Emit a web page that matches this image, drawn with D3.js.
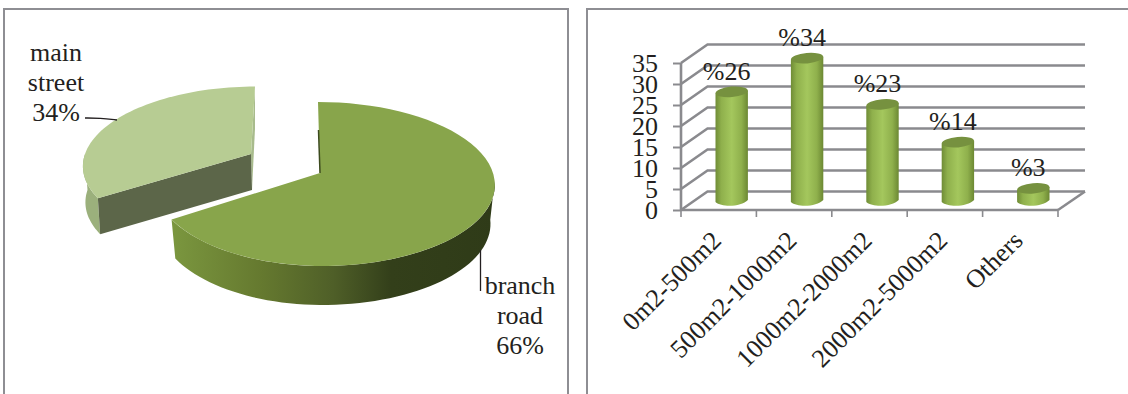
<!DOCTYPE html>
<html>
<head>
<meta charset="utf-8">
<style>
html,body{margin:0;padding:0;background:#fff;}
svg{display:block;}
text{font-family:"Liberation Serif","Times New Roman",serif;fill:#231f20;}
</style>
<script src="https://cdn.jsdelivr.net/npm/d3@7/dist/d3.min.js"></script>
</head>
<body>
<svg id="chart" width="1128" height="394"></svg>
<script>
// Road type shares
const roadTypes = ["branch road", "main street"];
const roadShares = [66, 34];
const roadLabelLines = [["branch", "road", "66%"], ["main", "street", "34%"]];

// Plot area shares
const areaClasses = ["0m2-500m2", "500m2-1000m2", "1000m2-2000m2", "2000m2-5000m2", "Others"];
const areaShares = [26, 34, 23, 14, 3];
const areaLabels = ["%26", "%34", "%23", "%14", "%3"];
const axisTicks = [0, 5, 10, 15, 20, 25, 30, 35];

const svg = d3.select("#chart");
const defs = svg.append("defs");
const borderColor = "#8e8e93";
const gridColor = "#8a8a8e";

// Panel frames, open at the bottom
const framePath = d3.line();
svg.append("path").attr("d", framePath([[4, 394], [4, 9], [568, 9], [568, 394]]))
  .attr("fill", "none").attr("stroke", borderColor).attr("stroke-width", 2);
svg.append("path").attr("d", framePath([[587, 394], [587, 9], [1128, 9]]))
  .attr("fill", "none").attr("stroke", borderColor).attr("stroke-width", 2);

/* ---------- Tilted pie ---------- */
const tilt = { rx: 173, ry: 80.5, persp: 0.134 };

// Projects a pie angle (clockwise from the far side) onto the tilted disc.
// lean skews the far side sideways, left scales the near-left half,
// floor pulls the lower rim of the wall towards the slice apex.
function rimPoint(angle, o) {
  const u = Math.sin(angle), v = Math.cos(angle);
  const s = 1 / (1 + tilt.persp * v);
  const side = u < 0 ? (o.left || 1) : 1;
  const px = o.k * tilt.rx * u * s * side * (o.floor || 1) + (o.lean || 0) * v;
  return [o.x + px, o.y - o.k * tilt.ry * v * s + (o.drop || 0)];
}
function rimArc(a0, a1, o) {
  return d3.range(0, 61).map(i => rimPoint(a0 + (a1 - a0) * i / 60, o));
}
const slices = d3.pie().sort(null).startAngle(0).endAngle(2 * Math.PI)(roadShares);
const branch = slices[0], mainStreet = slices[1];
const line = d3.line();
const closed = pts => line(pts) + "Z";

// Large slice
const bo = { x: 320, y: 173, k: 1, left: 0.95, lean: -2 };
const bDepth = 39;
const wallGrad = defs.append("linearGradient").attr("id", "wallShade")
  .attr("gradientUnits", "userSpaceOnUse").attr("x1", 171).attr("x2", 495).attr("y1", 0).attr("y2", 0);
[[0, "#7b973f"], [0.28, "#65792f"], [0.5, "#4f5f28"], [0.68, "#333f1a"], [1, "#2f3b18"]]
  .forEach(([o, c]) => wallGrad.append("stop").attr("offset", o).attr("stop-color", c));

const wallStart = Math.PI * 0.53;
const bTop = rimArc(wallStart, branch.endAngle, bo);
const bBottom = rimArc(wallStart, branch.endAngle, { ...bo, drop: bDepth, floor: 0.975 }).reverse();
svg.append("path").attr("d", closed(bTop.concat(bBottom))).attr("fill", "url(#wallShade)");

const bSurface = rimArc(branch.startAngle, branch.endAngle, bo).concat([[bo.x, bo.y]]);
svg.append("path").attr("d", closed(bSurface)).attr("fill", "#88a54b");
svg.append("path").attr("d", line([[318.5, 130], [320, bo.y]]))
  .attr("stroke", "#3c4a1e").attr("stroke-width", 1.5).attr("fill", "none");

// Pulled-out slice
const mo = { x: 251, y: 154, k: 0.95, lean: 4, left: 1.01 };
const mDepth = 36;
const mRim = rimArc(mainStreet.startAngle, mainStreet.endAngle, mo);
const mCorner = mRim[0], mFar = mRim[mRim.length - 1];
const apex = [mo.x, mo.y];

// Side strip next to the far edge
svg.append("path")
  .attr("d", closed([mFar, apex, [apex[0] + 1, apex[1] + mDepth], [mFar[0], mFar[1] + 42]]))
  .attr("fill", "#a8bb8c");
// Outer wall on the left
const mLow = { ...mo, drop: mDepth, floor: 0.985 };
const mLeftEnd = rimArc(mainStreet.startAngle, Math.PI * 1.5, mo);
const mLeftLow = rimArc(mainStreet.startAngle, Math.PI * 1.5, mLow).reverse();
svg.append("path").attr("d", closed(mLeftEnd.concat(mLeftLow))).attr("fill", "#9bb07c");
// Cut face
const mCornerLow = rimPoint(mainStreet.startAngle, mLow);
svg.append("path")
  .attr("d", closed([apex, mCorner, mCornerLow, [apex[0] + 1, apex[1] + mDepth]]))
  .attr("fill", "#5c6649");
// Top surface
svg.append("path").attr("d", closed(mRim.concat([apex]))).attr("fill", "#b7cc93");

// Leader lines and labels
svg.append("path").attr("d", d3.line().curve(d3.curveBasis)([[85, 118], [100, 118], [117, 120]]))
  .attr("fill", "none").attr("stroke", "#231f20").attr("stroke-width", 1.3);
svg.append("path").attr("d", line([[480.5, 250], [480.5, 291]]))
  .attr("fill", "none").attr("stroke", "#231f20").attr("stroke-width", 1.3);

const pieFont = 26;
const labelAnchors = [{ x: 520, y: 294 }, { x: 56, y: 61 }];
roadTypes.forEach((name, i) => {
  svg.append("text").attr("text-anchor", "middle").attr("font-size", pieFont)
    .selectAll("tspan").data(roadLabelLines[i]).join("tspan")
    .attr("x", labelAnchors[i].x)
    .attr("y", (d, j) => labelAnchors[i].y + j * 30)
    .text(d => d);
});

/* ---------- 3D cylinder columns ---------- */
const x = d3.scaleBand().domain(areaClasses).range([681, 1058]);
const y = d3.scaleLinear().domain([0, 35]).range([210, 63]);
const wall = { dx: 26.5, dy: -18.5 };
const barShift = { dx: 13, dy: -9 };

const grid = svg.append("g").attr("fill", "none").attr("stroke", gridColor).attr("stroke-width", 2.6);
// Back wall lines and side wall diagonals
axisTicks.forEach(t => {
  grid.append("path").attr("d", line([[x.range()[0], y(t)], [x.range()[0] + wall.dx, y(t) + wall.dy], [1085, y(t) + wall.dy]]));
});
grid.append("path").attr("d", line([[1058, y(0)], [1085, y(0) + wall.dy]]));
grid.append("path").attr("d", line([[681, y(0)], [1058, y(0)]]));
grid.append("path").attr("d", line([[681, y(0)], [681, y(35)]]));

// Axis ticks and tick labels from d3 axes
const yAxis = d3.axisLeft(y).tickValues(axisTicks).tickSize(8).tickPadding(15);
const yG = svg.append("g").attr("transform", "translate(681,0)").call(yAxis);
yG.select(".domain").remove();
yG.selectAll(".tick line").attr("stroke", gridColor).attr("stroke-width", 2);
yG.selectAll(".tick text").attr("font-size", 26).attr("font-family", null).attr("dy", "0.34em");

const xAxis = d3.axisBottom(x).tickSize(0).tickPadding(0);
const xG = svg.append("g").attr("transform", "translate(0,210)").call(xAxis);
xG.select(".domain").remove();
xG.selectAll(".tick line").remove();
xG.selectAll(".tick text")
  .attr("font-size", 26).attr("font-family", null)
  .attr("text-anchor", "end").attr("dy", 0).attr("y", 0)
  .attr("transform", "translate(4,32) rotate(-45)");

// Category separators below the floor
const sep = svg.append("g").attr("stroke", gridColor).attr("stroke-width", 1.6);
x.domain().forEach(c => sep.append("line").attr("x1", x(c)).attr("x2", x(c)).attr("y1", 210).attr("y2", 217));
sep.append("line").attr("x1", 1058).attr("x2", 1058).attr("y1", 210).attr("y2", 217);

// Cylinders
const cylGrad = defs.append("linearGradient").attr("id", "cyl");
[[0, "#6f8c36"], [0.18, "#8fb04c"], [0.5, "#a4c75d"], [0.8, "#8fb04c"], [1, "#6c8833"]]
  .forEach(([o, c]) => cylGrad.append("stop").attr("offset", o).attr("stop-color", c));
const capRx = 16.2, capRy = 5.2;
const bars = svg.append("g").selectAll("g").data(areaClasses).join("g");
bars.each(function (c, i) {
  const g = d3.select(this);
  const cx = x(c) + x.bandwidth() / 2 + barShift.dx;
  const yTop = y(areaShares[i]) + barShift.dy;
  const yBase = y(0) + barShift.dy;
  const p = d3.path();
  p.moveTo(cx - capRx, yTop + 1.4);
  p.lineTo(cx - capRx, yBase + 1);
  p.bezierCurveTo(cx - capRx * 0.6, yBase + capRy + 1.6, cx + capRx * 0.6, yBase + capRy + 0.6, cx + capRx, yBase - 1);
  p.lineTo(cx + capRx, yTop - 1.4);
  p.closePath();
  g.append("path").attr("d", p.toString()).attr("fill", "url(#cyl)");
  g.append("ellipse").attr("cx", 0).attr("cy", 0).attr("rx", capRx).attr("ry", capRy)
    .attr("transform", `translate(${cx},${yTop}) rotate(-5)`).attr("fill", "#76913f");
  svg.append("text").attr("x", cx - 5).attr("y", yTop - 12)
    .attr("text-anchor", "middle").attr("font-size", 26).text(areaLabels[i]);
});
</script>
</body>
</html>
